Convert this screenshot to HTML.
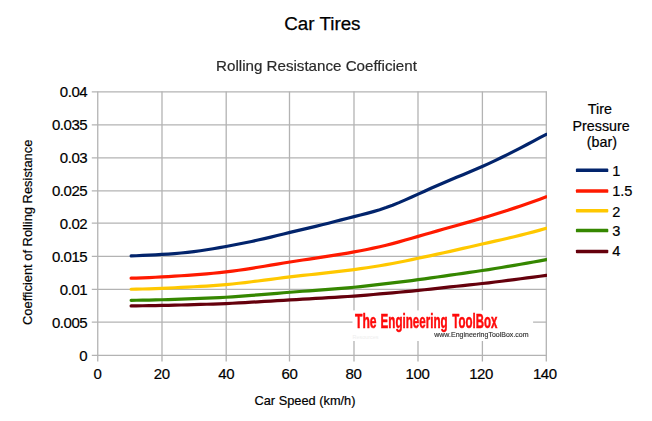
<!DOCTYPE html><html><head><meta charset="utf-8"><style>html,body{margin:0;padding:0;background:#fff;}svg{display:block;position:absolute;left:0;top:0}text{font-family:"Liberation Sans",sans-serif;}.b{stroke:#000;stroke-width:0.2px}.g{stroke:#2a2a2a;stroke-width:0.2px}</style></head><body>
<svg width="652" height="421" viewBox="0 0 652 421">
<rect width="652" height="421" fill="#fff"/>
<g stroke="#b3b3b3" stroke-width="1.3" fill="none"><line x1="91.80" y1="355.46" x2="546.90" y2="355.46"/><line x1="91.80" y1="322.10" x2="546.90" y2="322.10"/><line x1="91.80" y1="289.47" x2="546.90" y2="289.47"/><line x1="91.80" y1="256.47" x2="546.90" y2="256.47"/><line x1="91.80" y1="223.10" x2="546.90" y2="223.10"/><line x1="91.80" y1="190.97" x2="546.90" y2="190.97"/><line x1="91.80" y1="157.97" x2="546.90" y2="157.97"/><line x1="91.80" y1="124.97" x2="546.90" y2="124.97"/><line x1="91.80" y1="91.97" x2="546.90" y2="91.97"/><line x1="97.75" y1="91.40" x2="97.75" y2="361.45"/><line x1="162.00" y1="91.40" x2="162.00" y2="361.45"/><line x1="226.20" y1="91.40" x2="226.20" y2="361.45"/><line x1="289.50" y1="91.40" x2="289.50" y2="361.45"/><line x1="354.00" y1="91.40" x2="354.00" y2="361.45"/><line x1="418.00" y1="91.40" x2="418.00" y2="361.45"/><line x1="482.40" y1="91.40" x2="482.40" y2="361.45"/><line x1="546.30" y1="91.40" x2="546.30" y2="361.45"/></g>
<rect x="352.5" y="310.4" width="180.6" height="30.6" fill="#fff"/>
<defs><clipPath id="cp"><rect x="0" y="0" width="546.9" height="421"/></clipPath></defs>
<polyline points="131.12,255.97 136.24,255.73 142.65,255.43 149.06,255.13 155.46,254.81 161.87,254.45 168.28,254.05 174.69,253.57 181.09,253.02 187.50,252.38 193.91,251.63 200.31,250.75 206.72,249.78 213.13,248.72 219.54,247.61 225.94,246.45 232.35,245.26 238.76,244.04 245.16,242.77 251.57,241.45 257.98,240.06 264.39,238.61 270.79,237.09 277.20,235.54 283.61,233.98 290.01,232.43 296.42,230.91 302.83,229.40 309.24,227.88 315.64,226.36 322.05,224.80 328.46,223.19 334.86,221.56 341.27,219.91 347.68,218.25 354.09,216.61 360.49,214.99 366.90,213.34 373.31,211.59 379.71,209.69 386.12,207.58 392.53,205.20 398.94,202.61 405.34,199.85 411.75,196.99 418.16,194.09 424.56,191.19 430.97,188.31 437.38,185.47 443.79,182.68 450.19,179.95 456.60,177.28 463.01,174.65 469.41,172.01 475.82,169.33 482.23,166.56 488.64,163.66 495.04,160.66 501.45,157.56 507.86,154.37 514.26,151.11 520.67,147.80 527.08,144.46 533.49,141.08 539.89,137.70 546.30,134.32" fill="none" stroke="#02246c" stroke-width="3.2" stroke-linecap="round" stroke-linejoin="round" clip-path="url(#cp)"/>
<polyline points="131.12,278.16 136.24,278.03 142.65,277.82 149.06,277.56 155.46,277.27 161.87,276.94 168.28,276.58 174.69,276.19 181.09,275.77 187.50,275.32 193.91,274.86 200.31,274.37 206.72,273.85 213.13,273.28 219.54,272.65 225.94,271.94 232.35,271.14 238.76,270.26 245.16,269.31 251.57,268.32 257.98,267.28 264.39,266.22 270.79,265.15 277.20,264.08 283.61,263.02 290.01,261.99 296.42,261.00 302.83,260.03 309.24,259.08 315.64,258.13 322.05,257.17 328.46,256.19 334.86,255.18 341.27,254.13 347.68,253.05 354.09,251.91 360.49,250.73 366.90,249.48 373.31,248.16 379.71,246.74 386.12,245.22 392.53,243.59 398.94,241.87 405.34,240.08 411.75,238.25 418.16,236.40 424.56,234.55 430.97,232.70 437.38,230.87 443.79,229.05 450.19,227.24 456.60,225.44 463.01,223.64 469.41,221.84 475.82,220.01 482.23,218.14 488.64,216.23 495.04,214.28 501.45,212.27 507.86,210.22 514.26,208.12 520.67,205.96 527.08,203.76 533.49,201.51 539.89,199.21 546.30,196.85" fill="none" stroke="#ff1a00" stroke-width="3.2" stroke-linecap="round" stroke-linejoin="round" clip-path="url(#cp)"/>
<polyline points="131.12,289.25 136.24,289.15 142.65,289.00 149.06,288.81 155.46,288.58 161.87,288.34 168.28,288.06 174.69,287.77 181.09,287.45 187.50,287.12 193.91,286.77 200.31,286.41 206.72,286.03 213.13,285.60 219.54,285.12 225.94,284.58 232.35,283.97 238.76,283.28 245.16,282.55 251.57,281.77 257.98,280.97 264.39,280.15 270.79,279.32 277.20,278.51 283.61,277.70 290.01,276.93 296.42,276.18 302.83,275.46 309.24,274.75 315.64,274.06 322.05,273.36 328.46,272.65 334.86,271.92 341.27,271.17 347.68,270.39 354.09,269.57 360.49,268.69 366.90,267.77 373.31,266.79 379.71,265.75 386.12,264.65 392.53,263.47 398.94,262.24 405.34,260.96 411.75,259.65 418.16,258.30 424.56,256.94 430.97,255.57 437.38,254.17 443.79,252.76 450.19,251.33 456.60,249.89 463.01,248.43 469.41,246.96 475.82,245.49 482.23,244.04 488.64,242.59 495.04,241.15 501.45,239.70 507.86,238.22 514.26,236.72 520.67,235.16 527.08,233.56 533.49,231.88 539.89,230.12 546.30,228.27" fill="none" stroke="#ffc800" stroke-width="3.2" stroke-linecap="round" stroke-linejoin="round" clip-path="url(#cp)"/>
<polyline points="131.12,300.34 136.24,300.27 142.65,300.17 149.06,300.04 155.46,299.89 161.87,299.73 168.28,299.55 174.69,299.35 181.09,299.14 187.50,298.92 193.91,298.69 200.31,298.44 206.72,298.18 213.13,297.90 219.54,297.58 225.94,297.23 232.35,296.83 238.76,296.39 245.16,295.92 251.57,295.42 257.98,294.90 264.39,294.37 270.79,293.84 277.20,293.30 283.61,292.77 290.01,292.26 296.42,291.76 302.83,291.27 309.24,290.79 315.64,290.32 322.05,289.84 328.46,289.37 334.86,288.88 341.27,288.36 347.68,287.81 354.09,287.22 360.49,286.57 366.90,285.89 373.31,285.17 379.71,284.42 386.12,283.67 392.53,282.91 398.94,282.15 405.34,281.36 411.75,280.55 418.16,279.71 424.56,278.83 430.97,277.92 437.38,276.99 443.79,276.05 450.19,275.13 456.60,274.22 463.01,273.31 469.41,272.40 475.82,271.48 482.23,270.53 488.64,269.55 495.04,268.53 501.45,267.48 507.86,266.41 514.26,265.32 520.67,264.21 527.08,263.09 533.49,261.96 539.89,260.82 546.30,259.69" fill="none" stroke="#358700" stroke-width="3.2" stroke-linecap="round" stroke-linejoin="round" clip-path="url(#cp)"/>
<polyline points="131.12,305.89 136.24,305.83 142.65,305.75 149.06,305.66 155.46,305.55 161.87,305.43 168.28,305.29 174.69,305.14 181.09,304.99 187.50,304.82 193.91,304.65 200.31,304.46 206.72,304.27 213.13,304.05 219.54,303.82 225.94,303.55 232.35,303.25 238.76,302.93 245.16,302.58 251.57,302.22 257.98,301.84 264.39,301.46 270.79,301.07 277.20,300.69 283.61,300.30 290.01,299.92 296.42,299.55 302.83,299.18 309.24,298.82 315.64,298.46 322.05,298.09 328.46,297.71 334.86,297.33 341.27,296.93 347.68,296.50 354.09,296.04 360.49,295.55 366.90,295.04 373.31,294.50 379.71,293.94 386.12,293.38 392.53,292.82 398.94,292.25 405.34,291.66 411.75,291.05 418.16,290.41 424.56,289.74 430.97,289.04 437.38,288.33 443.79,287.62 450.19,286.93 456.60,286.25 463.01,285.58 469.41,284.91 475.82,284.23 482.23,283.53 488.64,282.80 495.04,282.03 501.45,281.25 507.86,280.44 514.26,279.62 520.67,278.78 527.08,277.94 533.49,277.09 539.89,276.24 546.30,275.39" fill="none" stroke="#65000c" stroke-width="3.2" stroke-linecap="round" stroke-linejoin="round" clip-path="url(#cp)"/>
<text x="355.0" y="328.1" font-size="19.4" font-weight="bold" fill="#ff0a0a" stroke="#ff0a0a" stroke-width="0.5" style="filter:blur(0.35px)" textLength="21.6" lengthAdjust="spacingAndGlyphs">The</text>
<text x="380.6" y="328.1" font-size="19.4" font-weight="bold" fill="#ff0a0a" stroke="#ff0a0a" stroke-width="0.5" style="filter:blur(0.35px)" textLength="67.0" lengthAdjust="spacingAndGlyphs">Engineering</text>
<text x="452.3" y="328.1" font-size="19.4" font-weight="bold" fill="#ff0a0a" stroke="#ff0a0a" stroke-width="0.5" style="filter:blur(0.35px)" textLength="45.0" lengthAdjust="spacingAndGlyphs">ToolBox</text>
<text x="434.2" y="336.6" font-size="6.9" fill="#333" stroke="#333" stroke-width="0.15" style="filter:blur(0.35px)" textLength="94.4" lengthAdjust="spacingAndGlyphs">www.EngineeringToolBox.com</text>
<text x="352.6" y="338.6" font-size="5.5" fill="#eeeeee" textLength="26" lengthAdjust="spacingAndGlyphs">Resources</text>
<text x="322.4" y="29.5" font-size="18.8" text-anchor="middle" fill="#000" class="b" style="stroke-width:0.25px">Car Tires</text>
<text x="316.5" y="71.0" font-size="15.15" text-anchor="middle" fill="#2a2a2a" class="g" style="filter:blur(0.4px)">Rolling Resistance Coefficient</text>
<text x="87.2" y="360.90" font-size="15" letter-spacing="-0.45" text-anchor="end" fill="#000" class="b">0</text>
<text x="87.2" y="327.90" font-size="15" letter-spacing="-0.45" text-anchor="end" fill="#000" class="b">0.005</text>
<text x="87.2" y="294.90" font-size="15" letter-spacing="-0.45" text-anchor="end" fill="#000" class="b">0.01</text>
<text x="87.2" y="261.90" font-size="15" letter-spacing="-0.45" text-anchor="end" fill="#000" class="b">0.015</text>
<text x="87.2" y="228.90" font-size="15" letter-spacing="-0.45" text-anchor="end" fill="#000" class="b">0.02</text>
<text x="87.2" y="195.90" font-size="15" letter-spacing="-0.45" text-anchor="end" fill="#000" class="b">0.025</text>
<text x="87.2" y="162.90" font-size="15" letter-spacing="-0.45" text-anchor="end" fill="#000" class="b">0.03</text>
<text x="87.2" y="129.90" font-size="15" letter-spacing="-0.45" text-anchor="end" fill="#000" class="b">0.035</text>
<text x="87.2" y="96.90" font-size="15" letter-spacing="-0.45" text-anchor="end" fill="#000" class="b">0.04</text>
<text x="97.40" y="379.4" font-size="15" letter-spacing="-0.45" text-anchor="middle" fill="#000" class="b">0</text>
<text x="161.77" y="379.4" font-size="15" letter-spacing="-0.45" text-anchor="middle" fill="#000" class="b">20</text>
<text x="226.24" y="379.4" font-size="15" letter-spacing="-0.45" text-anchor="middle" fill="#000" class="b">40</text>
<text x="289.41" y="379.4" font-size="15" letter-spacing="-0.45" text-anchor="middle" fill="#000" class="b">60</text>
<text x="353.39" y="379.4" font-size="15" letter-spacing="-0.45" text-anchor="middle" fill="#000" class="b">80</text>
<text x="417.46" y="379.4" font-size="15" letter-spacing="-0.45" text-anchor="middle" fill="#000" class="b">100</text>
<text x="481.03" y="379.4" font-size="15" letter-spacing="-0.45" text-anchor="middle" fill="#000" class="b">120</text>
<text x="544.80" y="379.4" font-size="15" letter-spacing="-0.45" text-anchor="middle" fill="#000" class="b">140</text>
<text x="305" y="405" font-size="12.8" text-anchor="middle" fill="#000" class="b">Car Speed (km/h)</text>
<text transform="translate(31.8,232.3) rotate(-90)" font-size="12.9" text-anchor="middle" fill="#000" class="b">Coefficient of Rolling Resistance</text>
<text x="599.9" y="114.40" font-size="14.3" text-anchor="middle" fill="#000" class="b">Tire</text>
<text x="601.1" y="130.60" font-size="14.3" text-anchor="middle" fill="#000" class="b">Pressure</text>
<text x="601.95" y="146.80" font-size="14.3" text-anchor="middle" fill="#000" class="b">(bar)</text>
<rect x="575.9" y="168.55" width="32.4" height="3.5" rx="0.9" fill="#02246c"/>
<text x="612.2" y="176" font-size="14.6" fill="#000" class="b">1</text>
<rect x="575.9" y="189.35" width="32.4" height="3.5" rx="0.9" fill="#ff1a00"/>
<text x="612.2" y="196" font-size="14.6" fill="#000" class="b">1.5</text>
<rect x="575.9" y="208.95" width="32.4" height="3.5" rx="0.9" fill="#ffc800"/>
<text x="612.2" y="216.5" font-size="14.6" fill="#000" class="b">2</text>
<rect x="575.9" y="228.85" width="32.4" height="3.5" rx="0.9" fill="#358700"/>
<text x="612.2" y="236.3" font-size="14.6" fill="#000" class="b">3</text>
<rect x="575.9" y="249.65" width="32.4" height="3.5" rx="0.9" fill="#65000c"/>
<text x="612.2" y="256" font-size="14.6" fill="#000" class="b">4</text>
</svg></body></html>
